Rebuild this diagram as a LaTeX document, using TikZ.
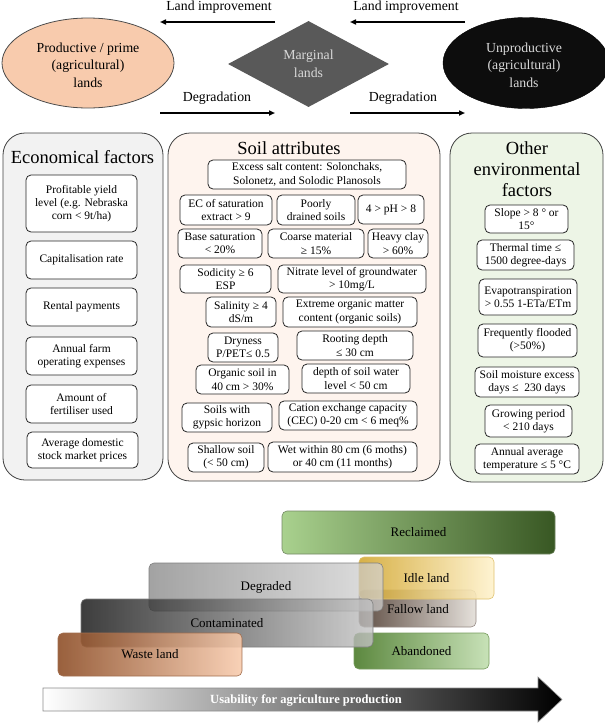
\documentclass[tikz,border=0pt]{standalone}
\usepackage{fontspec}
\setmainfont{Liberation Serif}
\usetikzlibrary{shapes.geometric,arrows.meta}
\definecolor{peach}{HTML}{F8CBAD}
\definecolor{margin}{HTML}{595959}
\definecolor{econbg}{HTML}{F2F2F2}
\definecolor{soilbg}{HTML}{FEF4EE}
\definecolor{envbg}{HTML}{EDF5E6}
\definecolor{panelline}{HTML}{404040}
\definecolor{recL}{HTML}{A9D18E}
\definecolor{recM}{HTML}{8CB870}
\definecolor{recR}{HTML}{385723}
\definecolor{degL}{HTML}{7F7F7F}
\definecolor{degR}{HTML}{D3D3D3}
\definecolor{conL}{HTML}{0D0D0D}
\definecolor{conR}{HTML}{C4C4C4}
\definecolor{wasL}{HTML}{8B4A22}
\definecolor{wasR}{HTML}{F8CBAD}
\definecolor{idlL}{HTML}{D2A62E}
\definecolor{idlR}{HTML}{FFF2CC}
\definecolor{falL}{HTML}{4E3B30}
\definecolor{falR}{HTML}{E3DED8}
\definecolor{abaL}{HTML}{548235}
\definecolor{abaR}{HTML}{C5E0B4}
\newcommand{\mybox}[7]{\node[#1, minimum width={(#5-#3)*1pt}, minimum height={(#6-#4)*1pt}] (#2) at ({(#3+#5)/2},{(#4+#6)/2}) {#7};}
\tikzset{
  toptext/.style={font=\fontsize{13.8}{17.5}\selectfont, align=center, inner sep=0pt},
  arr/.style={line width=1.5pt, -{Triangle[length=6pt,width=5pt]}},
  panel/.style={rounded corners=22pt, draw=panelline, line width=0.8pt},
  ptitle/.style={font=\fontsize{18.5}{21}\selectfont, align=center, inner sep=0pt},
  ibox/.style={rounded corners=5pt, draw=black!85, fill=white, line width=0.8pt, inner sep=0pt, align=center, font=\fontsize{11.5}{13.3}\selectfont},
  bbox/.style={rounded corners=5pt, inner sep=0pt, line width=0.6pt, font=\fontsize{13}{15}\selectfont},
}
\begin{document}
\begin{tikzpicture}[x=1pt,y=-1pt]
\useasboundingbox (0,0) rectangle (605,723);
% ---------- top row ----------
\node[ellipse, draw=black!70, line width=0.8pt, fill=peach, minimum width=172pt, minimum height=90pt, inner sep=0pt] (prod) at (88,63) {};
\node[toptext] (prodt) at (88,65) {Productive / prime\\(agricultural)\\lands};
\node[diamond, fill=margin, minimum width=161pt, minimum height=86pt, inner sep=0pt] (marg) at (308.5,64) {};
\node[toptext, text=black!15] (margt) at (308.5,64) {Marginal\\lands};
\node[ellipse, draw=black, fill=black!95, minimum width=166pt, minimum height=91pt, inner sep=0pt] (unprod) at (526,63) {};
\node[toptext, text=black!15] (unprodt) at (524,65) {Unproductive\\(agricultural)\\lands};

\coordinate (a1s) at (275,22); \coordinate (a1e) at (160,22);
\coordinate (a2s) at (465,22); \coordinate (a2e) at (350,22);
\coordinate (b1s) at (160,113); \coordinate (b1e) at (275,113);
\coordinate (b2s) at (350,113); \coordinate (b2e) at (465,113);
\draw[arr] (a1s) -- (a1e);
\draw[arr] (a2s) -- (a2e);
\draw[arr] (b1s) -- (b1e);
\draw[arr] (b2s) -- (b2e);
\node[toptext] (li1) at (219,7) {Land improvement};
\node[toptext] (li2) at (406,7) {Land improvement};
\node[toptext] (dg1) at (217,98) {Degradation};
\node[toptext] (dg2) at (403,98) {Degradation};

% ---------- panels ----------
\mybox{panel, fill=econbg}{econ}{3}{133}{163}{480}{}
\mybox{panel, fill=soilbg}{soil}{168}{133}{440}{481}{}
\mybox{panel, fill=envbg}{env}{450}{133}{603}{482}{}
\node[ptitle] (econt) at (82.5,157) {Economical factors};
\node[ptitle] (soilt) at (289,148) {Soil attributes};
\node[ptitle] (envt) at (527,169) {Other\\environmental\\factors};

% economical
\mybox{ibox}{e1}{26}{175}{137}{232}{Profitable yield\\level (e.g. Nebraska\\corn < 9t/ha)}
\mybox{ibox}{e2}{26}{241}{137}{279}{Capitalisation rate}
\mybox{ibox}{e3}{26}{288}{137}{326}{Rental payments}
\mybox{ibox}{e4}{26}{337}{137}{375}{Annual farm\\operating expenses}
\mybox{ibox}{e5}{26}{385}{137}{423}{Amount of\\fertiliser used}
\mybox{ibox}{e6}{27}{432}{138}{468}{Average domestic\\stock market prices}

% soil
\mybox{ibox}{s1}{208}{160}{406}{189}{Excess salt content: Solonchaks,\\Solonetz, and Solodic Planosols}
\mybox{ibox}{s2}{180}{195}{272}{225}{EC of saturation\\extract > 9}
\mybox{ibox}{s3}{277}{195}{355}{225}{Poorly\\drained soils}
\mybox{ibox}{s4}{358}{195}{424}{224}{4 > pH > 8}
\mybox{ibox}{s5}{178}{229}{262}{258}{Base saturation\\< 20\%}
\mybox{ibox}{s6}{268}{229}{364}{258}{Coarse material\\≥ 15\%}
\mybox{ibox}{s7}{368}{229}{428}{258}{Heavy clay\\> 60\%}
\mybox{ibox}{s8}{180}{265}{271}{293}{Sodicity ≥ 6\\ESP}
\mybox{ibox}{s9}{278}{265}{426}{293}{Nitrate level of groundwater\\> 10mg/L}
\mybox{ibox}{s10}{206}{297}{276}{327}{Salinity ≥ 4\\dS/m}
\mybox{ibox}{s11}{283}{297}{417}{327}{Extreme organic matter\\content (organic soils)}
\mybox{ibox}{s12}{208}{333}{278}{362}{Dryness\\P/PET≤ 0.5}
\mybox{ibox}{s13}{297}{331}{413}{360}{Rooting depth\\≤ 30 cm}
\mybox{ibox}{s14}{196}{365}{289}{394}{Organic soil in\\40 cm > 30\%}
\mybox{ibox}{s15}{302}{364}{410}{393}{depth of soil water\\level < 50 cm}
\mybox{ibox}{s16}{182}{403}{272}{432}{Soils with\\gypsic horizon}
\mybox{ibox}{s17}{279}{401}{417}{430}{Cation exchange capacity\\(CEC) 0-20 cm < 6 meq\%}
\mybox{ibox}{s18}{188}{443}{264}{472}{Shallow soil\\(< 50 cm)}
\mybox{ibox}{s19}{268}{442}{417}{472}{Wet within 80 cm (6 moths)\\or 40 cm (11 months)}

% environmental
\mybox{ibox}{v1}{485}{205}{568}{233}{Slope > 8 ° or\\15°}
\mybox{ibox}{v2}{477}{240}{574}{270}{Thermal time ≤\\1500 degree-days}
\mybox{ibox}{v3}{479}{279}{577}{315}{Evapotranspiration\\> 0.55 1-ETa/ETm}
\mybox{ibox}{v4}{478}{324}{577}{357}{Frequently flooded\\(>50\%)}
\mybox{ibox}{v5}{475}{367}{579}{397}{Soil moisture excess\\days ≤\ \ 230 days}
\mybox{ibox}{v6}{485}{405}{572}{437}{Growing period\\< 210 days}
\mybox{ibox}{v7}{475}{444}{579}{474}{Annual average\\temperature ≤ 5 °C}

% ---------- bottom ----------
\mybox{bbox, left color=recL, middle color=recM, right color=recR, draw=recR!70}{rec}{282}{511}{555}{554}{Reclaimed}
\mybox{bbox, left color=abaL, right color=abaR, draw=abaL!80, fill opacity=0.95, text opacity=1}{aba}{354}{633}{489}{669}{Abandoned}
\mybox{bbox, left color=falL, right color=falR, draw=falL!60, fill opacity=0.9, text opacity=1}{fal}{359}{590}{476}{627}{}
\mybox{bbox, left color=idlL, right color=idlR, draw=idlL!70, fill opacity=0.88, text opacity=1}{idl}{359}{557}{494}{599}{Idle land}
\node[inner sep=0pt, font=\fontsize{13}{15}\selectfont] (falt) at (418,609) {Fallow land};
\mybox{bbox, left color=degL, right color=degR, draw=degL, fill opacity=0.72, text opacity=1}{deg}{149}{563}{383}{611}{Degraded}
\mybox{bbox, left color=conL, right color=conR, draw=black!50, fill opacity=0.8, text opacity=1}{con}{81}{599}{373}{647}{Contaminated}
\mybox{bbox, left color=wasL, right color=wasR, draw=wasL!80, fill opacity=0.88, text opacity=1}{was}{58}{633}{242}{676}{Waste land}

% usability arrow
\shade[left color=white, right color=black, draw=black!45, line width=0.6pt]
  (43,688) -- (538,688) -- (538,677) -- (562,699.5) -- (538,722) -- (538,711) -- (43,711) -- cycle;
\node[inner sep=0pt, text=white, font=\bfseries\fontsize{12.5}{14}\selectfont] (usa) at (306,700) {Usability for agriculture production};
\end{tikzpicture}
\end{document}
